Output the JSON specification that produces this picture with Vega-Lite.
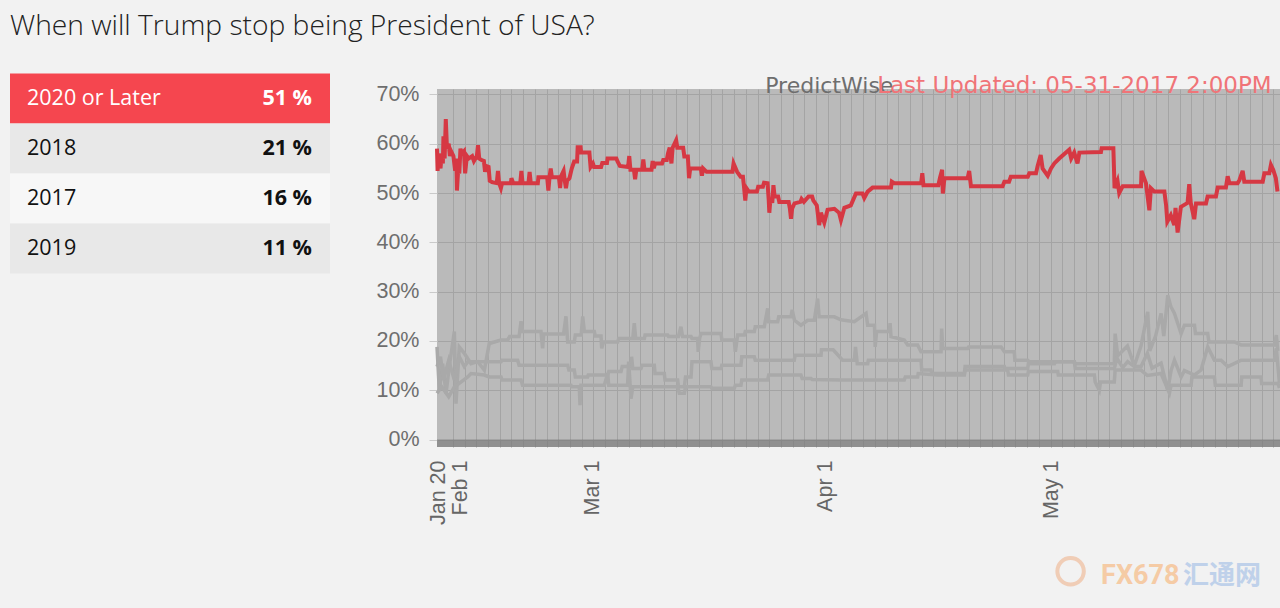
{
  "$schema": "https://vega.github.io/schema/vega-lite/v6.json",
  "background": "#f2f2f2",
  "padding": {"left": 10, "top": 12, "right": 0, "bottom": 16},
  "title": {"text": "When will Trump stop being President of USA?", "anchor": "start", "font": "Open Sans", "fontSize": 28.2, "fontWeight": 300, "color": "#222222", "offset": 32},
  "config": {"view": {"stroke": null}},
  "spacing": 45,
  "datasets": {
    "table": [
      {"option": "2020 or Later", "pct": 51},
      {"option": "2018", "pct": 21},
      {"option": "2017", "pct": 16},
      {"option": "2019", "pct": 11}
    ],
    "red": [
      {"i":0,"v":59},{"i":0.5,"v":54.5},{"i":1.5,"v":58},{"i":3,"v":55},{"i":4,"v":58},{"i":5,"v":56},{"i":5.5,"v":61.5},{"i":6.5,"v":57},{"i":7.5,"v":65},{"i":8.5,"v":59},{"i":10,"v":60},{"i":11,"v":57.5},{"i":12,"v":58.5},{"i":14,"v":57.5},{"i":15.5,"v":54.5},{"i":16.5,"v":57},{"i":17,"v":50.5},{"i":18,"v":54.5},{"i":19,"v":54},{"i":20,"v":59},{"i":21,"v":58},{"i":23,"v":58.5},{"i":24,"v":54},{"i":25.5,"v":57.5},{"i":27,"v":57},{"i":30,"v":57.5},{"i":31.5,"v":56.5},{"i":34,"v":57.5},{"i":35,"v":59.7},{"i":36,"v":57},{"i":38,"v":56.7},{"i":40,"v":56.5},{"i":41,"v":54.3},{"i":42,"v":55.5},{"i":44,"v":55.3},{"i":45,"v":52.5},{"i":47,"v":52.2},{"i":51,"v":52},{"i":52,"v":54.5},{"i":53,"v":52},{"i":54.5,"v":51},{"i":55.5,"v":52},{"i":63,"v":52},{"i":63.5,"v":53},{"i":65,"v":52},{"i":71,"v":52},{"i":72,"v":54.5},{"i":73,"v":52},{"i":78,"v":52},{"i":79,"v":54.3},{"i":80,"v":52},{"i":86,"v":52},{"i":86.5,"v":53.2},{"i":94,"v":53.2},{"i":95,"v":50.5},{"i":96,"v":53.2},{"i":97,"v":55},{"i":98,"v":53.2},{"i":104,"v":53.2},{"i":105,"v":51},{"i":106,"v":53.5},{"i":108,"v":54.5},{"i":109,"v":52.5},{"i":110,"v":51},{"i":111,"v":52.5},{"i":113,"v":53},{"i":115,"v":55},{"i":117,"v":56.4},{"i":119.5,"v":56.4},{"i":120,"v":59.3},{"i":122.5,"v":59.3},{"i":123,"v":58.2},{"i":130,"v":58.2},{"i":131,"v":55.3},{"i":133,"v":56},{"i":134,"v":55.3},{"i":140,"v":55.3},{"i":141,"v":56.1},{"i":145,"v":56.1},{"i":145.5,"v":57},{"i":153,"v":57},{"i":154,"v":56.4},{"i":156,"v":55.5},{"i":163,"v":55.3},{"i":164,"v":57.5},{"i":165,"v":54.7},{"i":168,"v":54.7},{"i":169,"v":52.8},{"i":170,"v":54.7},{"i":175,"v":54.7},{"i":176,"v":56.8},{"i":177,"v":54.7},{"i":183,"v":54.7},{"i":184,"v":56.5},{"i":185,"v":55},{"i":186,"v":56},{"i":192,"v":56},{"i":193,"v":56.7},{"i":196,"v":56.7},{"i":197,"v":58},{"i":198.5,"v":59.2},{"i":200,"v":56},{"i":201,"v":59.2},{"i":204,"v":60.7},{"i":205,"v":59.2},{"i":210,"v":59.2},{"i":211,"v":57.4},{"i":214,"v":57.4},{"i":214.5,"v":55.3},{"i":215,"v":53},{"i":216,"v":55},{"i":225,"v":55},{"i":226,"v":53.5},{"i":227,"v":55},{"i":230,"v":54.3},{"i":252,"v":54.3},{"i":253,"v":56},{"i":256,"v":54.3},{"i":259,"v":53.3},{"i":261,"v":53.3},{"i":262,"v":51},{"i":263,"v":48.5},{"i":264,"v":51},{"i":266,"v":50.3},{"i":273,"v":50.3},{"i":274,"v":51.3},{"i":278,"v":51.3},{"i":279,"v":52.1},{"i":282,"v":52},{"i":283,"v":48.5},{"i":283.5,"v":46},{"i":284.5,"v":49},{"i":286,"v":48},{"i":287,"v":51.6},{"i":288,"v":49.3},{"i":291,"v":49.3},{"i":292,"v":48.2},{"i":300,"v":48.2},{"i":301,"v":46.9},{"i":302,"v":44.8},{"i":303,"v":46.9},{"i":305,"v":47.9},{"i":310,"v":48.2},{"i":311,"v":48.8},{"i":313,"v":48.2},{"i":317,"v":49.3},{"i":320,"v":49.3},{"i":321,"v":48.5},{"i":324,"v":47.5},{"i":326,"v":43.5},{"i":327.5,"v":46},{"i":330.4,"v":44},{"i":333.2,"v":46.6},{"i":339,"v":46.8},{"i":343,"v":46},{"i":344.6,"v":44.5},{"i":347.5,"v":47},{"i":353,"v":47.5},{"i":357.4,"v":49.9},{"i":363,"v":49.9},{"i":364.5,"v":49},{"i":367.4,"v":50.3},{"i":371.6,"v":51.1},{"i":387.3,"v":51.1},{"i":388,"v":52.3},{"i":390,"v":52},{"i":413,"v":52},{"i":414,"v":54},{"i":415,"v":51.6},{"i":427.7,"v":51.6},{"i":429,"v":53},{"i":430.9,"v":54.7},{"i":431.5,"v":49.9},{"i":432.9,"v":53},{"i":452.7,"v":53},{"i":454,"v":54.5},{"i":455.5,"v":51.4},{"i":482.5,"v":51.4},{"i":484,"v":52.3},{"i":488,"v":52.3},{"i":489.5,"v":53.3},{"i":504,"v":53.3},{"i":505.3,"v":54},{"i":511,"v":54},{"i":512.4,"v":55.5},{"i":515,"v":57.7},{"i":516.6,"v":55},{"i":521,"v":53.5},{"i":523.8,"v":55},{"i":526.6,"v":56},{"i":530.8,"v":57},{"i":539.3,"v":58.8},{"i":541,"v":57},{"i":543.6,"v":58.2},{"i":546.4,"v":56},{"i":548,"v":58.2},{"i":566.4,"v":58.3},{"i":567,"v":59.1},{"i":577,"v":59.1},{"i":578,"v":51},{"i":580.5,"v":52.5},{"i":582,"v":50},{"i":585,"v":51.4},{"i":600.6,"v":51.4},{"i":601,"v":54.5},{"i":604.8,"v":52},{"i":607.7,"v":46.5},{"i":609,"v":51},{"i":612,"v":50.3},{"i":620.5,"v":50.3},{"i":622,"v":47.5},{"i":623,"v":44.2},{"i":626,"v":45.5},{"i":629,"v":43.5},{"i":630,"v":47},{"i":631.8,"v":42},{"i":634.6,"v":47.2},{"i":640.3,"v":48},{"i":641.7,"v":51.8},{"i":643,"v":48},{"i":646,"v":44.7},{"i":647.5,"v":47.9},{"i":656,"v":47.9},{"i":657.4,"v":49.3},{"i":664.5,"v":49.3},{"i":666,"v":51.1},{"i":673,"v":51.1},{"i":674.5,"v":53.4},{"i":676,"v":52},{"i":683,"v":52},{"i":684.5,"v":52.6},{"i":687.3,"v":54.5},{"i":688.7,"v":52.3},{"i":704.4,"v":52.3},{"i":705.8,"v":54},{"i":710,"v":54},{"i":711.4,"v":55.7},{"i":713.4,"v":54.7},{"i":715.6,"v":53},{"i":717,"v":50.3}
    ],
    "gray": [
      {"s":"2018","i":0,"v":18.8},{"s":"2018","i":2,"v":10},{"s":"2018","i":4.8,"v":15.4},{"s":"2018","i":7.7,"v":9.4},{"s":"2018","i":10.5,"v":14.8},{"s":"2018","i":14.8,"v":21.9},{"s":"2018","i":16.2,"v":7.3},{"s":"2018","i":19,"v":18.8},{"s":"2018","i":23.3,"v":17.5},{"s":"2018","i":29,"v":15.4},{"s":"2018","i":34.7,"v":15.8},{"s":"2018","i":40.4,"v":14.1},{"s":"2018","i":44.6,"v":19.5},{"s":"2018","i":48.9,"v":19.8},{"s":"2018","i":54.6,"v":20.2},{"s":"2018","i":60.3,"v":20.2},{"s":"2018","i":62,"v":20.9},{"s":"2018","i":70,"v":20.9},{"s":"2018","i":71.7,"v":24},{"s":"2018","i":73,"v":21.9},{"s":"2018","i":88.7,"v":21.9},{"s":"2018","i":90.1,"v":18.5},{"s":"2018","i":91,"v":21.4},{"s":"2018","i":108,"v":21.4},{"s":"2018","i":110,"v":25},{"s":"2018","i":111.5,"v":19.8},{"s":"2018","i":117.1,"v":19.8},{"s":"2018","i":118,"v":21.2},{"s":"2018","i":123,"v":21.2},{"s":"2018","i":124.3,"v":25},{"s":"2018","i":125.7,"v":21.9},{"s":"2018","i":134.2,"v":21.9},{"s":"2018","i":135,"v":21},{"s":"2018","i":139.9,"v":21},{"s":"2018","i":140.5,"v":18.5},{"s":"2018","i":142,"v":19.8},{"s":"2018","i":154.1,"v":19.8},{"s":"2018","i":155,"v":20.5},{"s":"2018","i":167,"v":20.5},{"s":"2018","i":168.3,"v":23.6},{"s":"2018","i":169.5,"v":20.5},{"s":"2018","i":176.9,"v":20.5},{"s":"2018","i":177.5,"v":21.2},{"s":"2018","i":196.8,"v":21.2},{"s":"2018","i":197.5,"v":20.9},{"s":"2018","i":206,"v":20.9},{"s":"2018","i":208.1,"v":22.9},{"s":"2018","i":209.5,"v":20.9},{"s":"2018","i":216.7,"v":20.9},{"s":"2018","i":217.5,"v":20.5},{"s":"2018","i":222.3,"v":20.5},{"s":"2018","i":222.8,"v":17.8},{"s":"2018","i":224,"v":20.5},{"s":"2018","i":225.2,"v":21.5},{"s":"2018","i":242.3,"v":21.5},{"s":"2018","i":243,"v":20.2},{"s":"2018","i":253.6,"v":20.2},{"s":"2018","i":254.5,"v":17.8},{"s":"2018","i":256.5,"v":21.2},{"s":"2018","i":262.2,"v":21.2},{"s":"2018","i":263,"v":21.9},{"s":"2018","i":270.7,"v":21.9},{"s":"2018","i":271.5,"v":22.9},{"s":"2018","i":279.2,"v":22.9},{"s":"2018","i":282.1,"v":26.6},{"s":"2018","i":283,"v":23.9},{"s":"2018","i":290.6,"v":23.9},{"s":"2018","i":291.5,"v":24.9},{"s":"2018","i":302,"v":24.9},{"s":"2018","i":303,"v":26.3},{"s":"2018","i":305,"v":24.2},{"s":"2018","i":310.5,"v":23.2},{"s":"2018","i":316.2,"v":24.2},{"s":"2018","i":321.9,"v":24.2},{"s":"2018","i":324.7,"v":28.6},{"s":"2018","i":326,"v":24.9},{"s":"2018","i":338.9,"v":24.9},{"s":"2018","i":344.6,"v":24.3},{"s":"2018","i":356,"v":23.9},{"s":"2018","i":366,"v":25.6},{"s":"2018","i":367.4,"v":23.2},{"s":"2018","i":373.2,"v":23.2},{"s":"2018","i":373.8,"v":18.8},{"s":"2018","i":375,"v":21.9},{"s":"2018","i":385.9,"v":21.9},{"s":"2018","i":386.5,"v":23.6},{"s":"2018","i":387.3,"v":20.9},{"s":"2018","i":398.6,"v":20.2},{"s":"2018","i":401.5,"v":19.2},{"s":"2018","i":410,"v":19.2},{"s":"2018","i":412.9,"v":17.8},{"s":"2018","i":430,"v":17.8},{"s":"2018","i":430.5,"v":22.5},{"s":"2018","i":431.5,"v":18.5},{"s":"2018","i":452.7,"v":18.5},{"s":"2018","i":453.5,"v":18.8},{"s":"2018","i":481.2,"v":18.8},{"s":"2018","i":484,"v":17.8},{"s":"2018","i":492.5,"v":17.8},{"s":"2018","i":493,"v":16.1},{"s":"2018","i":503.9,"v":16.1},{"s":"2018","i":505,"v":15.8},{"s":"2018","i":543.7,"v":15.8},{"s":"2018","i":544.5,"v":15.4},{"s":"2018","i":577.8,"v":15.4},{"s":"2018","i":578.5,"v":21.5},{"s":"2018","i":580.7,"v":17},{"s":"2018","i":589,"v":19},{"s":"2018","i":594.9,"v":15},{"s":"2018","i":600.6,"v":19},{"s":"2018","i":606.3,"v":25.9},{"s":"2018","i":608,"v":18},{"s":"2018","i":613,"v":21},{"s":"2018","i":617.7,"v":25.6},{"s":"2018","i":620,"v":21},{"s":"2018","i":623.4,"v":29.3},{"s":"2018","i":626,"v":27},{"s":"2018","i":629.1,"v":25.6},{"s":"2018","i":634.8,"v":21.5},{"s":"2018","i":637.6,"v":23.2},{"s":"2018","i":646.2,"v":23.2},{"s":"2018","i":647,"v":21.5},{"s":"2018","i":657.5,"v":21.5},{"s":"2018","i":658.5,"v":19.8},{"s":"2018","i":680.3,"v":19.8},{"s":"2018","i":686,"v":19.2},{"s":"2018","i":714.4,"v":19.2},{"s":"2018","i":716,"v":21.2},{"s":"2018","i":717.3,"v":18},
      {"s":"2017","i":0,"v":14.8},{"s":"2017","i":3,"v":16.8},{"s":"2017","i":5.5,"v":12.1},{"s":"2017","i":10,"v":16.1},{"s":"2017","i":14.8,"v":12.1},{"s":"2017","i":19,"v":16.8},{"s":"2017","i":23.3,"v":14.8},{"s":"2017","i":26.2,"v":15.8},{"s":"2017","i":54.6,"v":15.8},{"s":"2017","i":55.5,"v":16.1},{"s":"2017","i":68.8,"v":16.1},{"s":"2017","i":70,"v":15.1},{"s":"2017","i":111.5,"v":15.1},{"s":"2017","i":112.5,"v":14.1},{"s":"2017","i":117.1,"v":14.1},{"s":"2017","i":118,"v":12.7},{"s":"2017","i":128.5,"v":12.7},{"s":"2017","i":129,"v":13.1},{"s":"2017","i":145.6,"v":13.1},{"s":"2017","i":146.5,"v":13.8},{"s":"2017","i":157,"v":13.8},{"s":"2017","i":158,"v":14.8},{"s":"2017","i":165.5,"v":14.8},{"s":"2017","i":166,"v":16.8},{"s":"2017","i":167,"v":14.4},{"s":"2017","i":174,"v":14.4},{"s":"2017","i":175,"v":15.1},{"s":"2017","i":185.4,"v":15.1},{"s":"2017","i":186,"v":13.4},{"s":"2017","i":193.9,"v":13.4},{"s":"2017","i":194.5,"v":12.1},{"s":"2017","i":205.3,"v":12.1},{"s":"2017","i":206,"v":10.7},{"s":"2017","i":211,"v":10.7},{"s":"2017","i":212,"v":12.7},{"s":"2017","i":216.7,"v":12.7},{"s":"2017","i":217.5,"v":15.8},{"s":"2017","i":233.7,"v":15.8},{"s":"2017","i":234.5,"v":14.4},{"s":"2017","i":242.3,"v":14.4},{"s":"2017","i":243,"v":15.1},{"s":"2017","i":259.3,"v":15.1},{"s":"2017","i":260,"v":16.8},{"s":"2017","i":270.7,"v":16.8},{"s":"2017","i":271.5,"v":16.1},{"s":"2017","i":304.8,"v":16.1},{"s":"2017","i":305.5,"v":17.1},{"s":"2017","i":327.6,"v":17.1},{"s":"2017","i":328,"v":18.2},{"s":"2017","i":338,"v":18.2},{"s":"2017","i":346,"v":16.1},{"s":"2017","i":356,"v":16.1},{"s":"2017","i":357,"v":18.8},{"s":"2017","i":358.5,"v":15.4},{"s":"2017","i":367.4,"v":15.4},{"s":"2017","i":368,"v":16.1},{"s":"2017","i":412.9,"v":16.1},{"s":"2017","i":413.5,"v":14.1},{"s":"2017","i":421.4,"v":14.1},{"s":"2017","i":422,"v":13.4},{"s":"2017","i":449.9,"v":13.4},{"s":"2017","i":450.5,"v":14.8},{"s":"2017","i":484,"v":14.8},{"s":"2017","i":484.5,"v":14.4},{"s":"2017","i":503.9,"v":14.4},{"s":"2017","i":504.5,"v":15.4},{"s":"2017","i":526.7,"v":15.4},{"s":"2017","i":527.5,"v":15.8},{"s":"2017","i":543.7,"v":15.8},{"s":"2017","i":544.5,"v":14.4},{"s":"2017","i":577.8,"v":14.4},{"s":"2017","i":580,"v":16.5},{"s":"2017","i":585,"v":14.6},{"s":"2017","i":589.2,"v":15.8},{"s":"2017","i":594.9,"v":14.8},{"s":"2017","i":600.6,"v":14.8},{"s":"2017","i":606,"v":17.5},{"s":"2017","i":610,"v":14.5},{"s":"2017","i":617.7,"v":15.5},{"s":"2017","i":623.4,"v":10},{"s":"2017","i":626.2,"v":14},{"s":"2017","i":629.1,"v":16.1},{"s":"2017","i":634.8,"v":12.7},{"s":"2017","i":637.6,"v":14},{"s":"2017","i":646.2,"v":13.1},{"s":"2017","i":651.8,"v":14.1},{"s":"2017","i":657.5,"v":18.8},{"s":"2017","i":663.2,"v":16.1},{"s":"2017","i":668.9,"v":16.1},{"s":"2017","i":674.6,"v":14.8},{"s":"2017","i":686,"v":16.1},{"s":"2017","i":714.4,"v":16.1},{"s":"2017","i":716,"v":18.5},{"s":"2017","i":718.7,"v":11.4},
      {"s":"2019","i":0,"v":9.4},{"s":"2019","i":4,"v":10.7},{"s":"2019","i":10,"v":8.7},{"s":"2019","i":14.8,"v":10.7},{"s":"2019","i":19,"v":11.4},{"s":"2019","i":26.2,"v":12.7},{"s":"2019","i":29,"v":13.4},{"s":"2019","i":40.4,"v":13.1},{"s":"2019","i":44.6,"v":12.7},{"s":"2019","i":54.6,"v":12.7},{"s":"2019","i":55.5,"v":12.1},{"s":"2019","i":71.7,"v":12.1},{"s":"2019","i":73,"v":11},{"s":"2019","i":114.3,"v":11},{"s":"2019","i":115,"v":10.7},{"s":"2019","i":121.4,"v":10.7},{"s":"2019","i":122,"v":7},{"s":"2019","i":122.8,"v":11},{"s":"2019","i":142.7,"v":11},{"s":"2019","i":145.6,"v":13.4},{"s":"2019","i":146.5,"v":11},{"s":"2019","i":162.6,"v":11},{"s":"2019","i":163.5,"v":15.8},{"s":"2019","i":165.5,"v":8.3},{"s":"2019","i":167,"v":10.7},{"s":"2019","i":205.3,"v":10.7},{"s":"2019","i":206.7,"v":9.4},{"s":"2019","i":211,"v":9.4},{"s":"2019","i":212,"v":10.7},{"s":"2019","i":233.7,"v":10.7},{"s":"2019","i":234.5,"v":10.4},{"s":"2019","i":253.6,"v":10.4},{"s":"2019","i":254.5,"v":11},{"s":"2019","i":259.3,"v":11},{"s":"2019","i":260,"v":12.1},{"s":"2019","i":282.1,"v":12.1},{"s":"2019","i":283,"v":13.1},{"s":"2019","i":310.5,"v":13.1},{"s":"2019","i":311.5,"v":12.4},{"s":"2019","i":319,"v":12.4},{"s":"2019","i":320,"v":12.2},{"s":"2019","i":344.6,"v":12.1},{"s":"2019","i":398.6,"v":12.1},{"s":"2019","i":399.5,"v":12.7},{"s":"2019","i":410,"v":12.7},{"s":"2019","i":410.5,"v":13.4},{"s":"2019","i":427.1,"v":13.1},{"s":"2019","i":449.9,"v":13.1},{"s":"2019","i":450.5,"v":14.1},{"s":"2019","i":486.8,"v":14.1},{"s":"2019","i":487.5,"v":13.1},{"s":"2019","i":503.9,"v":13.1},{"s":"2019","i":504.5,"v":13.8},{"s":"2019","i":529.5,"v":13.8},{"s":"2019","i":530,"v":13.1},{"s":"2019","i":560.8,"v":13.1},{"s":"2019","i":561.5,"v":11.7},{"s":"2019","i":565,"v":10},{"s":"2019","i":566,"v":11.7},{"s":"2019","i":577.8,"v":11.7},{"s":"2019","i":578.5,"v":14.1},{"s":"2019","i":600.6,"v":14.1},{"s":"2019","i":606,"v":13},{"s":"2019","i":617.7,"v":13.4},{"s":"2019","i":624.8,"v":9.4},{"s":"2019","i":626.2,"v":11},{"s":"2019","i":643.3,"v":11},{"s":"2019","i":644,"v":12.7},{"s":"2019","i":663.2,"v":12.7},{"s":"2019","i":664,"v":11},{"s":"2019","i":686,"v":11},{"s":"2019","i":686.5,"v":12.7},{"s":"2019","i":703,"v":12.7},{"s":"2019","i":703.5,"v":11.4},{"s":"2019","i":717.3,"v":11.4},{"s":"2019","i":718.7,"v":10.5}
    ]
  },
  "hconcat": [
    {
      "width": 320,
      "height": 200,
      "data": {"name": "table"},
      "transform": [{"calculate": "datum.pct + ' %'", "as": "pctLabel"}],
      "encoding": {
        "y": {"field": "option", "type": "nominal", "sort": null, "axis": null, "scale": {"paddingInner": 0, "paddingOuter": 0, "range": [-15.4, 184.6]}}
      },
      "layer": [
        {
          "mark": {"type": "rect"},
          "encoding": {
            "fill": {"field": "option", "type": "nominal", "legend": null, "scale": {"domain": ["2020 or Later", "2018", "2017", "2019"], "range": ["#f5464f", "#e8e8e8", "#f7f7f7", "#e8e8e8"]}}
          }
        },
        {
          "mark": {"type": "text", "align": "left", "baseline": "middle", "font": "Open Sans", "fontSize": 21.5, "fontWeight": 400},
          "encoding": {
            "x": {"datum": 0, "type": "quantitative", "axis": null, "scale": {"domain": [0, 1], "range": [17, 302]}},
            "text": {"field": "option"},
            "color": {"condition": {"test": "datum.option === '2020 or Later'", "value": "#ffffff"}, "value": "#111111"}
          }
        },
        {
          "mark": {"type": "text", "align": "right", "baseline": "middle", "font": "Open Sans", "fontSize": 21.5, "fontWeight": 700},
          "encoding": {
            "x": {"datum": 1, "type": "quantitative", "axis": null},
            "text": {"field": "pctLabel"},
            "color": {"condition": {"test": "datum.option === '2020 or Later'", "value": "#ffffff"}, "value": "#111111"}
          }
        }
      ]
    },
    {
      "width": 844,
      "height": 358,
      "view": {"fill": "#bababa", "stroke": null},
      "layer": [
        {
          "data": {"values": [{}]},
          "mark": {"type": "rect", "color": "#7a7a7a", "opacity": 0.65},
          "encoding": {
            "y": {"datum": -1.5, "type": "quantitative", "axis": null, "scale": {"domain": [-1.5, 71.1], "nice": false, "zero": false}},
            "y2": {"datum": 0}
          }
        },
        {
          "data": {"name": "gray"},
          "mark": {"type": "line", "color": "#a9a9a9", "strokeWidth": 3.5},
          "encoding": {
            "x": {"field": "i", "type": "quantitative", "scale": {"domain": [0, 720], "nice": false, "zero": false},
              "axis": {"orient": "bottom", "title": null, "labels": false, "ticks": false, "domain": false, "grid": true, "gridColor": "#a4a4a4", "gridWidth": 1,
                "values": [13.5,23.5,33.5,43.5,53.5,63.5,73.5,83.5,93.5,103.5,113.5,123.5,133.5,143.5,153.5,163.5,173.5,183.5,193.5,203.5,213.5,223.5,233.5,243.5,253.5,263.5,273.5,283.5,293.5,303.5,313.5,323.5,333.5,343.5,353.5,363.5,373.5,383.5,393.5,403.5,413.5,423.5,433.5,443.5,453.5,463.5,473.5,483.5,493.5,503.5,513.5,523.5,533.5,543.5,553.5,563.5,573.5,583.5,593.5,603.5,613.5,623.5,633.5,643.5,653.5,663.5,673.5,683.5,693.5,703.5,713.5]}},
            "y": {"field": "v", "type": "quantitative",
              "axis": {"orient": "left", "title": null, "values": [0,10,20,30,40,50,60,70], "labelExpr": "datum.value + '%'", "grid": true, "gridColor": "#a4a4a4", "domain": false, "tickSize": 8, "tickColor": "#cacaca", "labelPadding": 10, "labelFont": "Liberation Sans", "labelFontSize": 21.5, "labelColor": "#6e6e6e"}},
            "detail": {"field": "s", "type": "nominal"}
          }
        },
        {
          "data": {"name": "red"},
          "mark": {"type": "line", "color": "#d63843", "strokeWidth": 4},
          "encoding": {
            "x": {"field": "i", "type": "quantitative",
              "axis": {"orient": "bottom", "title": null, "grid": false, "ticks": false, "tickSize": 0, "domain": false, "values": [1.5, 20, 133, 331, 524],
                "labelExpr": "datum.value < 10 ? 'Jan 20' : datum.value < 60 ? 'Feb 1' : datum.value < 250 ? 'Mar 1' : datum.value < 450 ? 'Apr 1' : 'May 1'",
                "labelAngle": 270, "labelFont": "Liberation Sans", "labelFontSize": 21.5, "labelColor": "#666666", "labelPadding": 13, "labelOverlap": false, "labelFlush": false, "labelBound": false}},
            "y": {"field": "v", "type": "quantitative", "axis": null}
          }
        },
        {
          "data": {"values": [{}]},
          "mark": {"type": "text", "text": "PredictWise", "align": "left", "baseline": "alphabetic", "font": "DejaVu Sans", "fontSize": 22, "color": "#6e6e6e"},
          "encoding": {
            "x": {"datum": 280, "type": "quantitative", "axis": null},
            "y": {"datum": 70.32, "type": "quantitative", "axis": null}
          }
        },
        {
          "data": {"values": [{}]},
          "mark": {"type": "text", "text": "Last Updated: 05-31-2017 2:00PM", "align": "left", "baseline": "alphabetic", "font": "DejaVu Sans", "fontSize": 23, "color": "#f07478"},
          "encoding": {
            "x": {"datum": 375.5, "type": "quantitative", "axis": null},
            "y": {"datum": 70.32, "type": "quantitative", "axis": null}
          }
        },
        {
          "data": {"values": [{}]},
          "mark": {"type": "point", "shape": "circle", "size": 700, "filled": false, "stroke": "#f0c4a8", "strokeWidth": 4, "opacity": 0.8},
          "encoding": {
            "x": {"datum": 540.5, "type": "quantitative", "axis": null},
            "y": {"datum": -26.7, "type": "quantitative", "axis": null}
          }
        },
        {
          "data": {"values": [{}]},
          "mark": {"type": "text", "text": "FX678", "align": "left", "baseline": "alphabetic", "font": "Roboto", "fontWeight": 700, "fontSize": 27, "color": "#f5cba5"},
          "encoding": {
            "x": {"datum": 566.5, "type": "quantitative", "axis": null},
            "y": {"datum": -29.2, "type": "quantitative", "axis": null}
          }
        },
        {
          "data": {"values": [{}]},
          "mark": {"type": "text", "text": "汇通网", "align": "left", "baseline": "alphabetic", "font": "Noto Sans CJK SC", "fontWeight": 700, "fontSize": 26, "color": "#bfd1ea"},
          "encoding": {
            "x": {"datum": 636.4, "type": "quantitative", "axis": null},
            "y": {"datum": -29.2, "type": "quantitative", "axis": null}
          }
        }
      ],
      "resolve": {"axis": {"x": "independent", "y": "independent"}}
    }
  ]
}
